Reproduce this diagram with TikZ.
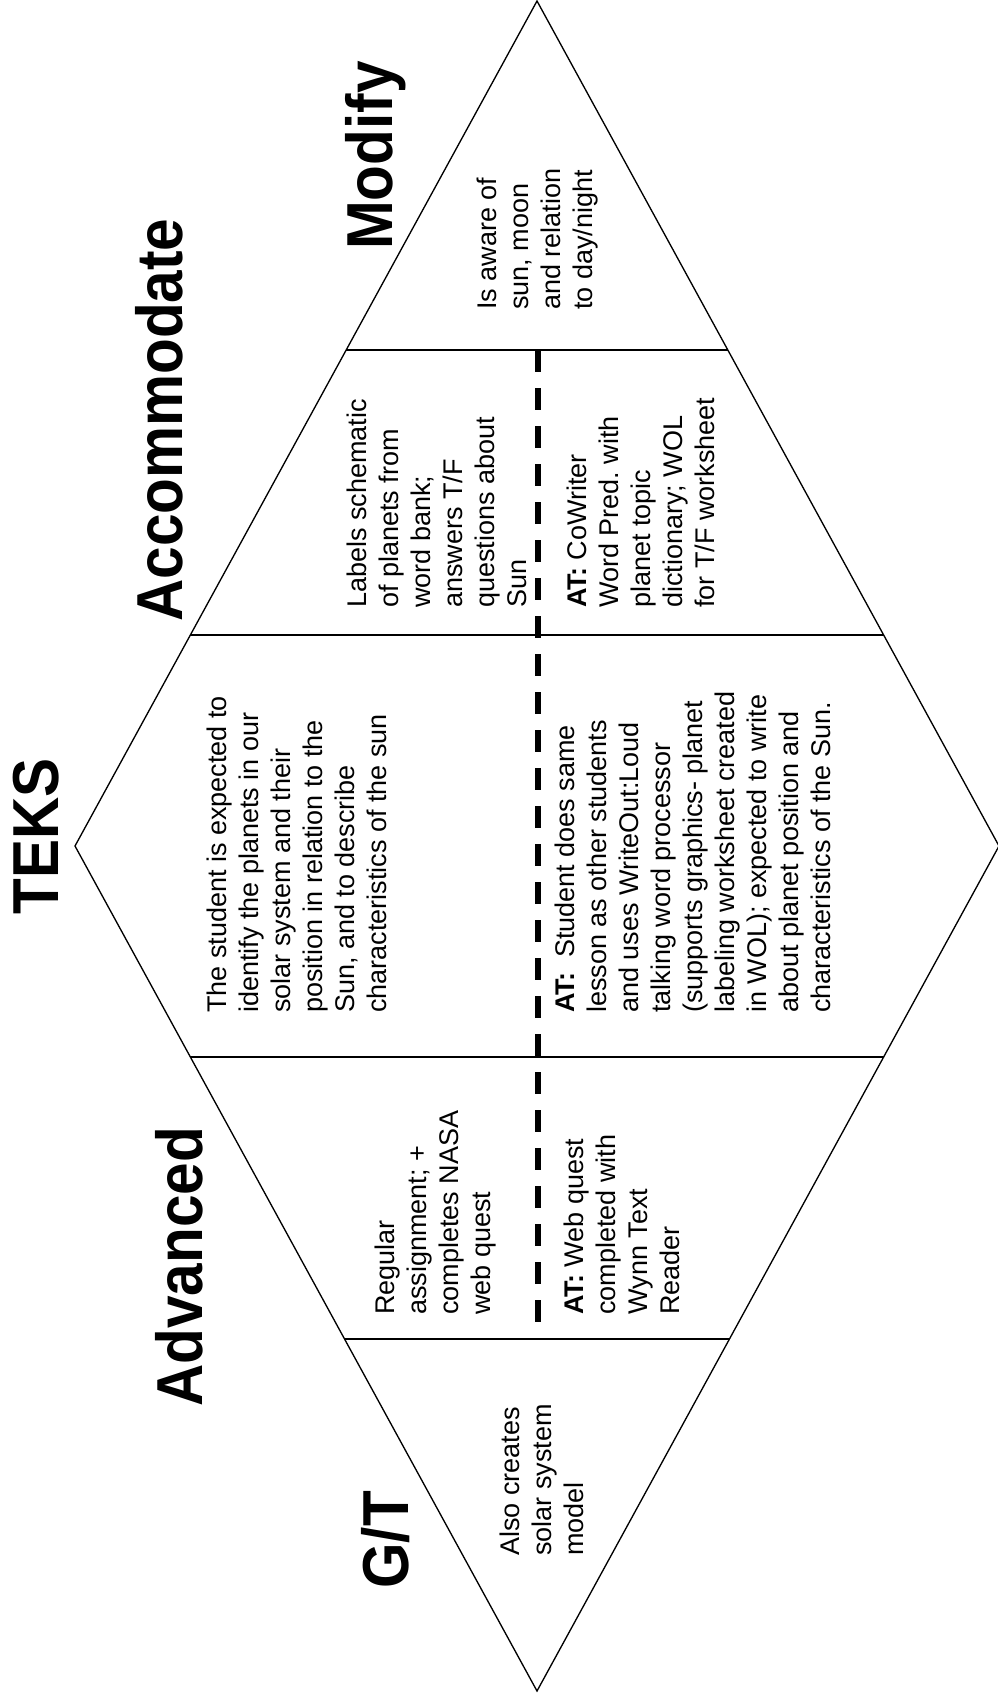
\documentclass[tikz,border=0pt]{standalone}
\usepackage{fontspec}
\setmainfont{Liberation Sans}
\newfontfamily\headfont[FakeStretch=0.9]{Liberation Sans}
\frenchspacing

\begin{document}
\begin{tikzpicture}[x=0.75pt,y=0.75pt,yscale=-1,xscale=1,
    heading/.style={rotate=90,anchor=base west,inner sep=0pt,font=\headfont\bfseries\fontsize{48.75}{50}\selectfont},
    cell/.style={rotate=90,anchor=north west,inner sep=0pt,align=left,font=\fontsize{20.25}{24}\selectfont},
    rule/.style={line width=1.5pt},
    edge/.style={line width=1pt,line join=miter},
    split/.style={line width=4.5pt,dash pattern=on 16.5pt off 12pt}]
        \useasboundingbox (0,0) rectangle (997,1701);

        %Shape: Diamond
        \draw [edge] (537,1) -- (999,846) -- (537,1691) -- (75,846) -- cycle ;
        %Straight Lines
        \draw [rule] (346.2,350) -- (727.8,350) ;
        %Straight Lines
        \draw [rule] (190.4,635) -- (883.6,635) ;
        %Straight Lines
        \draw [rule] (190.4,1057) -- (883.6,1057) ;
        %Straight Lines
        \draw [rule] (344.5,1339) -- (729.5,1339) ;
        %Dashed Lines
        \draw [split] (538,350) -- (538,1339) ;

        % Text Node
        \node [heading] (modify) at (392,250) {Modify};
        % Text Node
        \node [heading] (accommodate) at (182,622) {Accommodate};
        % Text Node
        \node [heading] (teks) at (58,915) {TEKS};
        % Text Node
        \node [heading] (advanced) at (202,1407) {Advanced};
        % Text Node
        \node [heading] (gt) at (408,1589) {G/T};

        % Text Node
        \node [cell] (modifytxt) at (477,310) {Is aware of\\sun, moon\\and relation\\to day/night};
        % Text Node
        \node [cell] (accomtxt) at (347,608) {Labels schematic\\of planets from\\word bank;\\answers T/F\\questions about\\Sun};
        % Text Node
        \node [cell] (accomat) at (567,608) {\textbf{AT:} CoWriter\\Word Pred. with\\planet topic\\dictionary; WOL\\for T/F worksheet};
        % Text Node
        \node [cell] (tekstxt) at (207,1013) {The student is expected to\\identify the planets in our\\solar system and their\\position in relation to the\\Sun, and to describe\\characteristics of the sun};
        % Text Node
        \node [cell] (teksat) at (555,1013) {\textbf{AT:}~ Student does same\\lesson as other students\\and uses WriteOut:Loud\\talking word processor\\(supports graphics- planet\\labeling worksheet created\\in WOL); expected to write\\about planet position and\\characteristics of the Sun.};
        % Text Node
        \node [cell] (advtxt) at (375,1315) {Regular\\assignment; +\\completes NASA\\web quest};
        % Text Node
        \node [cell] (advat) at (564,1315) {\textbf{AT:} Web quest\\completed with\\Wynn Text\\Reader};
        % Text Node
        \node [cell] (gttxt) at (500,1556) {Also creates\\solar system\\model};

    \end{tikzpicture}
\end{document}
